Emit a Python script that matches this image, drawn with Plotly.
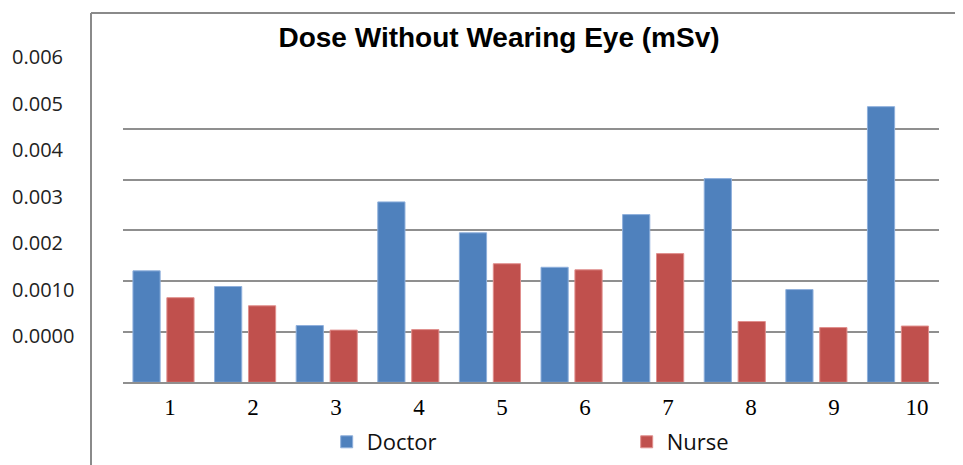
import plotly.graph_objects as go

# ---- data ----
categories = ["1", "2", "3", "4", "5", "6", "7", "8", "9", "10"]
doctor = [0.00220, 0.00189, 0.00112, 0.00356, 0.00295, 0.00227, 0.00331, 0.00402, 0.00183, 0.00544]
nurse = [0.00167, 0.00151, 0.00103, 0.00104, 0.00234, 0.00222, 0.00254, 0.00120, 0.00108, 0.00111]
grid_values = [0, 0.001, 0.002, 0.003, 0.004, 0.005]
label_values = [0, 0.001, 0.002, 0.003, 0.004, 0.005, 0.006]
label_texts = ["0.0000", "0.0010", "0.002", "0.003", "0.004", "0.005", "0.006"]
title_text = "Dose Without Wearing Eye (mSv)"

# page body has an 8px margin; figure sized to fill the rest of the window
OFF = 8
W, H = 963 - OFF, 465 - OFF
BLUE = "#4F81BD"
RED = "#C0504D"
GRID = "#8f8f8f"


def px_x(p):
    return (p - OFF) / W


def px_y(p):
    return 1 - (p - OFF) / H


fig = go.Figure()
fig.add_trace(go.Bar(x=categories, y=doctor, name="Doctor",
                     marker=dict(color=BLUE, line=dict(color="#8fb0dc", width=1))))
fig.add_trace(go.Bar(x=categories, y=nurse, name="Nurse",
                     marker=dict(color=RED, line=dict(color="#e08f8d", width=1))))
# invisible carrier trace so the label axes (x2 / y2) are drawn
fig.add_trace(go.Scatter(x=categories, y=doctor, xaxis="x2", yaxis="y2", mode="markers",
                         marker=dict(opacity=0), showlegend=False, hoverinfo="skip"))

left_px, right_px = 122.7, 938.8
base_px = 382.3
grid_px = 50.67
x_dom = [px_x(left_px), px_x(right_px)]
y_dom = [px_y(base_px), 1.0]
y_top = (base_px - OFF) / grid_px * 0.001

lab0_px, lab_step = 336.0, 46.45
y2_lo = (lab0_px - base_px) / lab_step * 0.001
y2_hi = (lab0_px - OFF) / lab_step * 0.001

x2_c0, x2_step = 170.0, 83.0
x2_lo = (left_px - x2_c0) / x2_step
x2_hi = (right_px - x2_c0) / x2_step

fig.update_layout(
    width=W, height=H,
    margin=dict(l=0, r=0, t=0, b=0, autoexpand=False),
    paper_bgcolor="white", plot_bgcolor="white",
    barmode="group", bargap=0.169, bargroupgap=0.198,
    title=dict(text=title_text, x=px_x(499), xanchor="center", y=px_y(37), yanchor="middle",
               font=dict(family="Liberation Sans, Arial", size=28, color="black", weight=700)),
    xaxis=dict(domain=x_dom, showticklabels=False, showgrid=False, showline=True,
               linecolor=GRID, linewidth=2, ticks="", zeroline=False),
    xaxis2=dict(overlaying="x", anchor="y", side="bottom", type="category", range=[x2_lo, x2_hi],
                showgrid=False, showline=False, zeroline=False, ticks="outside", ticklen=4,
                tickcolor="rgba(0,0,0,0)",
                tickfont=dict(family="Liberation Serif, Times New Roman", size=23, color="black")),
    yaxis=dict(domain=y_dom, range=[0, y_top], tickmode="array", tickvals=grid_values,
               showticklabels=False, showgrid=True, gridcolor=GRID, gridwidth=2,
               zeroline=False, showline=False, ticks=""),
    yaxis2=dict(overlaying="y", anchor="free", position=px_x(8), side="left",
                range=[y2_lo, y2_hi], tickmode="array", tickvals=label_values, ticktext=label_texts,
                ticklabelposition="inside", showgrid=False, zeroline=False, showline=False, ticks="",
                tickfont=dict(family="Open Sans", size=20, color="#222222")),
    legend=dict(orientation="h", x=px_x(326.7), xanchor="left", y=px_y(442), yanchor="middle",
                entrywidth=255, entrywidthmode="pixels",
                font=dict(family="Open Sans", size=22, color="#111111"), bgcolor="rgba(0,0,0,0)"),
    showlegend=True,
    shapes=[
        dict(type="line", xref="paper", yref="paper", x0=px_x(91), x1=1.02, y0=px_y(13), y1=px_y(13),
             line=dict(color="#8a8a8a", width=2)),
        dict(type="line", xref="paper", yref="paper", x0=px_x(91), x1=px_x(91), y0=px_y(13), y1=-0.03,
             line=dict(color="#8a8a8a", width=2)),
    ],
)

fig.write_html("out.html")
